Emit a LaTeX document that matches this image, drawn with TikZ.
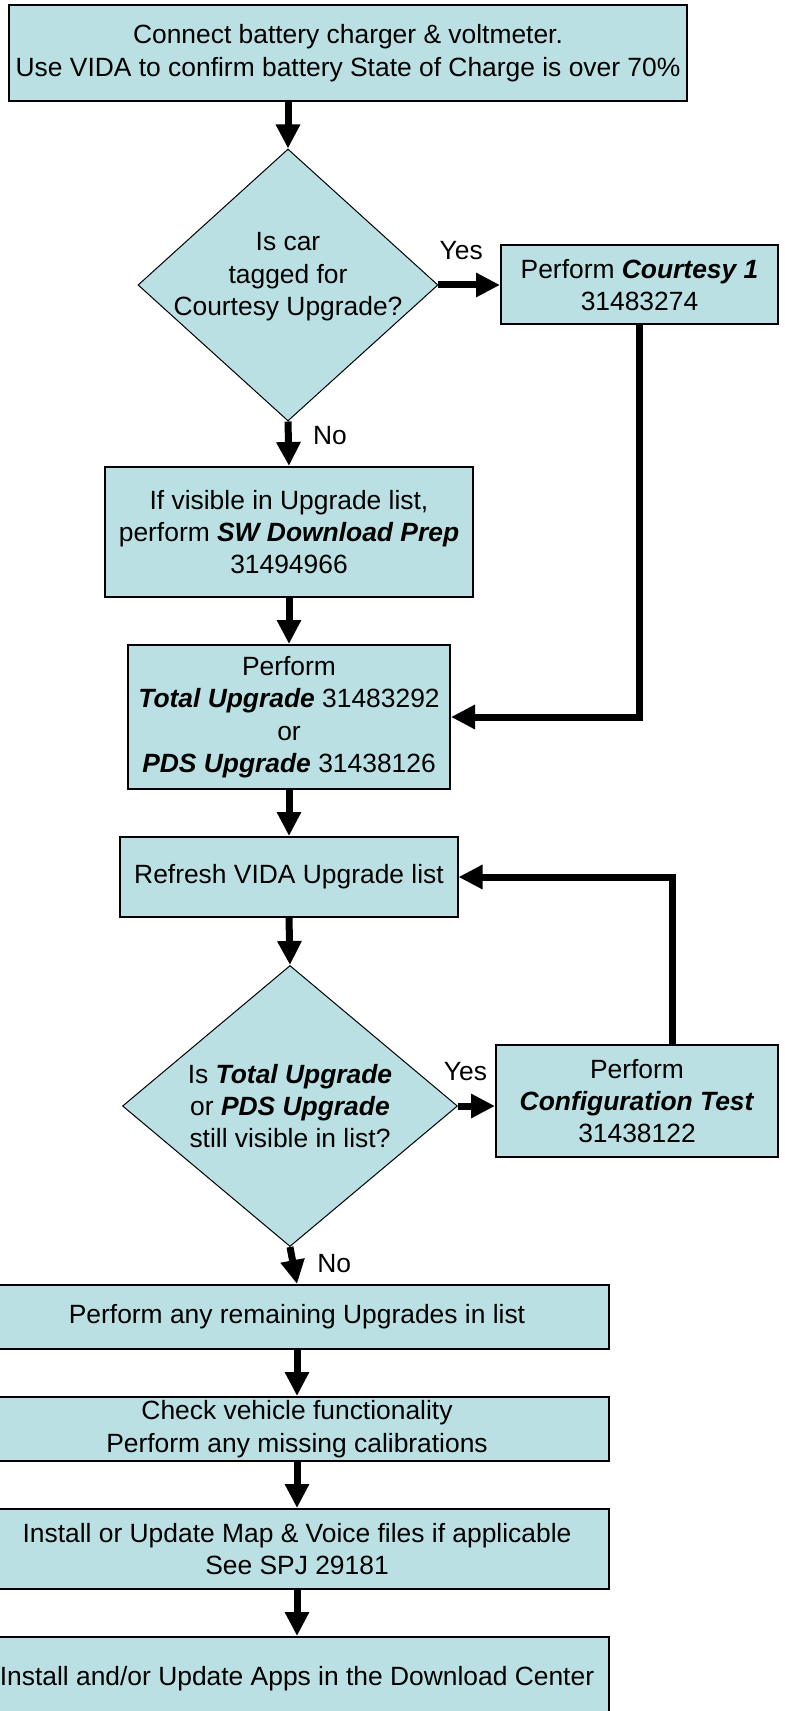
\documentclass[tikz,border=0pt]{standalone}
\usepackage{fontspec}
\setmainfont{Liberation Sans}
\usepackage{tikz}
\usetikzlibrary{arrows.meta, shapes.geometric, positioning}
\newcommand{\flowfont}{\fontsize{13.2pt}{16.2pt}\selectfont}
\newcommand{\bitext}[1]{\textbf{\textit{#1}}}
\tikzset{
    boxnode/.style = {draw, rectangle, fill=cellblue, line width=1pt, inner sep=0pt,
      node distance=0em, font=\flowfont},
    decisionnode/.style = {draw, diamond, fill=cellblue, line width=0.5pt, inner sep=0pt,
      node distance=0em},
    textnode/.style  = {draw=none, fill=none, rectangle, inner sep=0pt, font=\flowfont},
    connect/.style = {line width=3.5pt, -{Triangle[width=11.5pt, length=12pt]}},
    flowline/.style = {line width=3.5pt},
    every text node part/.style={align=center}
}
\definecolor{cellblue}{RGB}{186, 224, 227}
\begin{document}
\begin{tikzpicture}
    \useasboundingbox (-174pt,-829pt) rectangle (218pt,26.5pt);

    \node[boxnode, name=start, minimum width=339pt, minimum height=48pt] {Connect battery charger \& voltmeter.\\Use VIDA to confirm battery State of Charge is over 70\%};
    \node[decisionnode, name=tagged, below of=start, xshift=-30pt, yshift=-116pt, minimum width=150pt, minimum height=136pt,
      label={[textnode, name=taggedtext, yshift=4pt]center:{Is car\\tagged for\\Courtesy Upgrade?}}] {};
    \node[boxnode, name=courtesy, right of=tagged, xshift=175.75pt, minimum width=138.5pt, minimum height=39.5pt] {Perform \bitext{Courtesy 1}\\31483274};
    \draw (start.south -| tagged.north) edge[connect] (tagged.north);
    \draw (tagged) edge[connect] node[textnode, pos=0.37, above=11pt] {Yes} (courtesy);

    \node[boxnode, name=swprep, below of=tagged, xshift=0.5pt, yshift=-123.5pt, minimum width=184pt, minimum height=65pt] {If visible in Upgrade list,\\perform \bitext{SW Download Prep}\\31494966};
    \draw (tagged.south) edge[connect] node[textnode, pos=0.52, anchor=base west, xshift=10.5pt] {No} (swprep.north);

    \node[boxnode, name=total, below of=swprep, yshift=-92.5pt, minimum width=161pt, minimum height=72pt] {Perform\\\bitext{Total Upgrade} 31483292\\or\\\bitext{PDS Upgrade} 31438126};
    \draw (swprep) edge[connect] (total);
    \draw[flowline, -{Triangle[width=11.5pt, length=12pt]}] (courtesy.south) |- (total.east);

    \node[boxnode, name=refresh, below of=total, yshift=-80pt, minimum width=168.5pt, minimum height=40pt] {Refresh VIDA Upgrade list};
    \draw (total) edge[connect] (refresh);

    \node[decisionnode, name=visible, below of=refresh, xshift=0.5pt, yshift=-114.5pt, minimum width=167.5pt, minimum height=140.5pt,
      label={[textnode, name=visibletext]center:{Is \bitext{Total Upgrade}\\or \bitext{PDS Upgrade}\\still visible in list?}}] {};
    \draw (refresh.south) edge[connect] (visible.north);
    \node[boxnode, name=config, right of=visible, xshift=173.5pt, yshift=2.5pt, minimum width=141pt, minimum height=56pt] {Perform\\\bitext{Configuration Test}\\31438122};
    \draw (visible.east) edge[connect] node[textnode, pos=0.2, above=11pt] {Yes} (visible.east -| config.west);
    \draw[flowline, -{Triangle[width=11.5pt, length=12pt]}] ([xshift=17.5pt]config.north) |- (refresh.east);

    \node[boxnode, name=remaining, below of=visible, xshift=3.5pt, yshift=-105.5pt, minimum width=312pt, minimum height=32pt] {Perform any remaining Upgrades in list};
    \draw (visible.south) edge[connect] node[textnode, pos=0.69, anchor=base west, xshift=9.5pt] {No} (remaining.north);

    \node[boxnode, name=checkfn, below of=remaining, yshift=-56pt, minimum width=312pt, minimum height=32pt] {Check vehicle functionality\\Perform any missing calibrations};
    \node[boxnode, name=mapvoice, below of=checkfn, yshift=-60pt, minimum width=312pt, minimum height=40pt] {Install or Update Map \& Voice files if applicable\\See SPJ 29181};
    \node[boxnode, name=apps, below of=mapvoice, yshift=-65pt, minimum width=312pt, minimum height=42pt] {Install and/or Update Apps in the Download Center};
    \draw (remaining) edge[connect] (checkfn);
    \draw (checkfn) edge[connect] (mapvoice);
    \draw (mapvoice) edge[connect] (apps);
\end{tikzpicture}
\end{document}
